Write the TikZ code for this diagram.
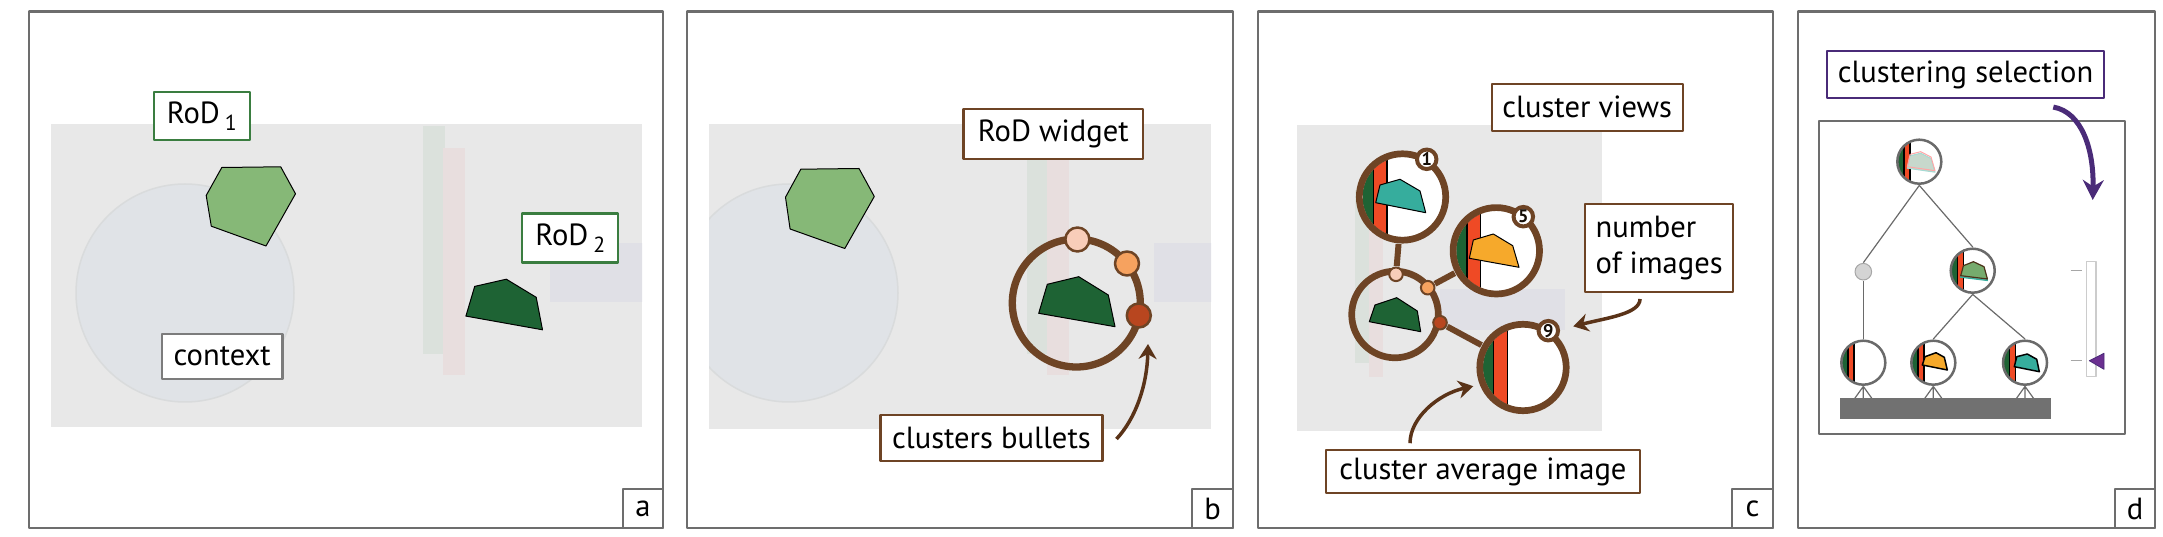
\documentclass[tikz,border=0pt]{standalone}
\usepackage{fontspec}
\setmainfont{PT Sans}
\usetikzlibrary{arrows.meta}

\definecolor{framegray}{HTML}{6D6D6D}
\definecolor{scenegray}{HTML}{E8E8E8}
\definecolor{ctxblue}{HTML}{E0E3E7}
\definecolor{ctxline}{HTML}{D9DBDC}
\definecolor{stripgreen}{HTML}{DBE1DC}
\definecolor{strippink}{HTML}{E8DEDE}
\definecolor{rectblue}{HTML}{E0E0E6}
\definecolor{rodlight}{HTML}{86B877}
\definecolor{roddark}{HTML}{1E6334}
\definecolor{rodframe}{HTML}{3A7D40}
\definecolor{widgetbrown}{HTML}{6E4425}
\definecolor{arrowbrown}{HTML}{5A3318}
\definecolor{bulletpale}{HTML}{F8CDB9}
\definecolor{bulletmid}{HTML}{F6A25F}
\definecolor{bulletdark}{HTML}{B8461F}
\definecolor{imgred}{HTML}{EF4A25}
\definecolor{imgteal}{HTML}{36AD9D}
\definecolor{imgorange}{HTML}{F6A92B}
\definecolor{selpurple}{HTML}{4A2B78}
\definecolor{markpurple}{HTML}{6B2F90}
\definecolor{treegray}{HTML}{6A6A6A}

% zoomed cluster image: centre, inner radius, green edge, red edge
\newcommand\clusterimg[4]{%
  \begin{scope}[shift={#1}]
    \clip (0,0) circle (#2);
    \fill[white] (0,0) circle (#2);
    \fill[roddark] (-#2,-#2) rectangle (#3,#2);
    \fill[imgred] (#3,-#2) rectangle (#4,#2);
    \draw[line width=0.13mm] (#3,-#2) -- (#3,#2) (#4,-#2) -- (#4,#2);
  \end{scope}}

% background scene of panels a and b
\newcommand\viewscene[1]{%
  \begin{scope}[shift={(#1,0)}]
    \filldraw[fill=ctxblue, draw=ctxline, line width=0.15mm] (185,293) circle (109);
    \fill[stripgreen] (423,126.5) rectangle (445,354.4);
    \fill[strippink] (443,147.6) rectangle (465,375);
    \fill[rectblue] (550,243) rectangle (700,302.5);
  \end{scope}}

\begin{document}
\begin{tikzpicture}[x=0.1mm, y=-0.1mm, line join=round,
    >={Stealth[length=1.5mm,width=1.8mm]},
    font=\fontsize{8.7}{10.4}\selectfont,
    panel/.style={draw=framegray, line width=0.22mm},
    tag/.style={draw=framegray, fill=white, line width=0.22mm, inner sep=0pt,
      minimum width=4.05mm, minimum height=3.9mm},
    callout/.style={fill=white, line width=0.22mm, inner sep=0pt},
    rodpoly/.style={draw=black, line width=0.1mm},
    hub/.style={circle, inner sep=0pt},
    ring/.style={draw=widgetbrown, line width=0.67mm},
    bullet/.style={draw=widgetbrown, line width=0.25mm},
    spoke/.style={draw=widgetbrown, line width=0.6mm},
    hint/.style={draw=arrowbrown, line width=0.35mm, ->},
    badge/.style={circle, draw=widgetbrown, fill=white, line width=0.4mm,
      minimum size=1.95mm, inner sep=0pt, text=black!80!widgetbrown,
      font=\fontsize{5.2}{5.5}\selectfont\bfseries},
    treering/.style={draw=treegray, line width=0.25mm},
    treelink/.style={draw=treegray, line width=0.12mm},
  ]
  \useasboundingbox (0,0) rectangle (2163,537);

  % ---------- panel a
  \draw[panel] (29,11.5) rectangle (663,528);
  \begin{scope}
    \clip (51,123.7) rectangle (642,427);
    \fill[scenegray] (51,123.7) rectangle (642,427);
    \viewscene{0}
  \end{scope}
  \filldraw[rodpoly, fill=rodlight] (221.8,167.5) -- (280.7,166.8) -- (295.5,193.8)
    -- (266,246) -- (211.3,226.2) -- (206.2,195.5) -- cycle;
  \filldraw[rodpoly, fill=roddark] (474.7,286.4) -- (506.3,279.2) -- (536.2,297.3)
    -- (542.5,329.8) -- (465.9,316.1) -- cycle;
  \node[callout, draw=rodframe, minimum width=9.64mm, minimum height=4.77mm] (rodone)
    at (201.8,116.2) {RoD\,\raisebox{-0.45ex}{\fontsize{6.2}{7}\selectfont 1}};
  \node[callout, draw=rodframe, minimum width=9.6mm, minimum height=4.9mm] (rodtwo)
    at (570.3,238) {RoD\,\raisebox{-0.45ex}{\fontsize{6.2}{7}\selectfont 2}};
  \node[callout, draw=framegray!90, minimum width=12.04mm, minimum height=4.45mm] (context)
    at (222.2,356.5) {context};
  \node[tag] (taga) at (643,508.5) {a};

  % ---------- panel b
  \draw[panel] (687,11.5) rectangle (1233,528);
  \begin{scope}
    \clip (709,123.7) rectangle (1211,429);
    \fill[scenegray] (709,123.7) rectangle (1211,429);
    \viewscene{604}
  \end{scope}
  \filldraw[rodpoly, fill=rodlight] (800.8,169.2) -- (859,168.5) -- (874.3,196.5)
    -- (844.8,248.5) -- (790.1,229) -- (785.5,197.2) -- cycle;
  \draw[ring, line width=0.73mm] (1076.3,303) circle (64);
  \filldraw[rodpoly, fill=roddark] (1047.3,284.3) -- (1078.7,276.7) -- (1108.3,295)
    -- (1115,326.7) -- (1038.7,313.3) -- cycle;
  \filldraw[bullet, fill=bulletpale] (1077.4,239.5) circle (12);
  \filldraw[bullet, fill=bulletmid] (1127,263.5) circle (12);
  \filldraw[bullet, fill=bulletdark] (1138.8,315.5) circle (12);
  \coordinate (bullettip) at (1148,344);
  \node[callout, draw=widgetbrown, minimum width=17.95mm, minimum height=4.96mm] (widget)
    at (1053.3,134.2) {RoD widget};
  \node[callout, draw=widgetbrown, minimum width=22.2mm, minimum height=4.55mm] (bullets)
    at (991.4,438) {clusters bullets};
  \draw[hint] ([xshift=1.3mm,yshift=-0.1mm]bullets.east) .. controls (1136,418) and (1147,385) .. (bullettip);
  \node[tag] (tagb) at (1212.5,508.5) {b};

  % ---------- panel c
  \draw[panel] (1258,11.5) rectangle (1773,528);
  \fill[scenegray] (1296.7,124.7) rectangle (1601.7,430.6);
  \fill[stripgreen] (1355,190) rectangle (1370,363);
  \fill[strippink] (1369,210) rectangle (1383.3,377);
  \fill[rectblue] (1440,289) rectangle (1565,330);
  \path (1402.5,197) node[hub, minimum size=9.3mm] (cone) {}
        (1496.3,250.8) node[hub, minimum size=9.3mm] (ctwo) {}
        (1523,367.5) node[hub, minimum size=9.3mm] (cthree) {}
        (1396,274.3) node[hub, minimum size=1.5mm] (pone) {}
        (1427.7,287.7) node[hub, minimum size=1.5mm] (ptwo) {}
        (1440,322.7) node[hub, minimum size=1.5mm] (pthree) {};
  \draw[spoke] (pone) -- (cone);
  \draw[spoke] (ptwo) -- (ctwo);
  \draw[spoke] (pthree) -- (cthree);
  \draw[ring] (1395,314.5) circle (43.3);
  \filldraw[rodpoly, fill=roddark] (1375,305) -- (1396.7,297.7) -- (1417.3,311)
    -- (1420.7,331.7) -- (1369.3,321.7) -- cycle;
  \clusterimg{(1402.5,197)}{40}{-29.3}{-15.5}
  \filldraw[rodpoly, fill=imgteal, shift={(1402.5,197)}] (-22.5,-12) -- (-2.5,-17.7)
    -- (17.5,-6) -- (23.2,15.7) -- (-26.8,5.7) -- cycle;
  \draw[ring] (cone) circle (43.2);
  \clusterimg{(1496.3,250.8)}{40}{-29.3}{-15.5}
  \filldraw[rodpoly, fill=imgorange, shift={(1496.3,250.8)}] (-23,-10.8) -- (-3,-16.8)
    -- (16.4,-5.1) -- (22.7,16.5) -- (-27,7.5) -- cycle;
  \draw[ring] (ctwo) circle (43.2);
  \clusterimg{(1523,367.5)}{40}{-29.3}{-15.5}
  \draw[ring] (cthree) circle (43.2);
  \filldraw[bullet, line width=0.2mm, fill=bulletpale] (pone) circle (6.8);
  \filldraw[bullet, line width=0.2mm, fill=bulletmid] (ptwo) circle (6.8);
  \filldraw[bullet, line width=0.2mm, fill=bulletdark] (pthree) circle (6.8);
  \node[badge] (bone) at (1426.7,159.3) {1};
  \node[badge] (bfive) at (1523.3,216.7) {5};
  \node[badge] (bnine) at (1548.3,330.7) {9};
  \coordinate (counttip) at (1573.3,326.4);
  \coordinate (avgtip) at (1473.3,386.2);
  \node[callout, draw=widgetbrown, minimum width=19.1mm, minimum height=4.7mm] (views)
    at (1587.2,107.2) {cluster views};
  \node[callout, draw=widgetbrown, minimum width=14.83mm, minimum height=8.82mm, align=left] (count)
    at (1659.2,248.1) {number\\of images};
  \node[callout, draw=widgetbrown, minimum width=31.43mm, minimum height=4.26mm] (average)
    at (1482.9,471.7) {cluster average image};
  \draw[hint] ([xshift=-1.92mm,yshift=-0.57mm]count.south) .. controls (1640,314) and (1606,318) .. (counttip);
  \draw[hint] ([xshift=-7.29mm,yshift=0.61mm]average.north) .. controls (1410,418) and (1438,394) .. (avgtip);
  \node[tag] (tagc) at (1752.5,508.5) {c};

  % ---------- panel d
  \draw[panel] (1798,11.5) rectangle (2155,528);
  \draw[panel, line width=0.2mm] (1819.3,120.6) rectangle (2125,434);
  \path (1919.3,161.7) node[hub, minimum size=4.6mm] (root) {}
        (1863.3,271.7) node[hub, minimum size=1.66mm] (gdot) {}
        (1972.7,270.7) node[hub, minimum size=4.6mm] (inner) {}
        (1863.3,362.7) node[hub, minimum size=4.6mm] (lone) {}
        (1933.3,362.7) node[hub, minimum size=4.6mm] (ltwo) {}
        (2025,362.7) node[hub, minimum size=4.6mm] (lthree) {};
  \draw[treelink] (root.south) -- (gdot.north);
  \draw[treelink] (root.south) -- (inner.north);
  \draw[treelink] (gdot.south) -- (lone.north);
  \draw[treelink] (inner.south) -- (ltwo.north);
  \draw[treelink] (inner.south) -- (lthree.north);
  \foreach \leaf in {lone,ltwo,lthree}
    \draw[treelink] (\leaf.south) -- ++(-9,12.6) (\leaf.south) -- ++(0,12.6) (\leaf.south) -- ++(9,12.6);
  \fill[treegray!95] (1840,398.3) rectangle (2051,419);
  \filldraw[fill=black!17, draw=black!35, line width=0.1mm] (gdot) circle (8.3);
  \clusterimg{(1919.3,161.7)}{21.2}{-15.3}{-9.3}
  \filldraw[draw=imgteal!45, fill=roddark!25, line width=0.1mm, shift={(1919.3,163.2)}] (-9.3,-7.3) -- (1.3,-10)
    -- (11.7,-4.7) -- (15.7,9) -- (-12,5) -- cycle;
  \draw[draw=red!35, line width=0.1mm, shift={(1919.3,161.7)}] (-9.3,-7.3) -- (1.3,-10)
    -- (11.7,-4.7) -- (15.7,9) -- (-12,5) -- cycle;
  \draw[treering] (root) circle (22);
  \clusterimg{(1972.7,270.7)}{21.2}{-15.3}{-9.3}
  \filldraw[draw=imgteal, fill=imgteal!70, line width=0.12mm, shift={(1972.7,272.2)}] (-9.3,-5) -- (0.7,-9)
    -- (11.3,-4) -- (14.7,8.3) -- (-12,5) -- cycle;
  \filldraw[draw=black!60!brown, fill=rodlight!85!roddark, line width=0.12mm, shift={(1972.7,270.7)}] (-9.3,-5) -- (0.7,-9)
    -- (11.3,-4) -- (14.7,8.3) -- (-12,5) -- cycle;
  \draw[treering] (inner) circle (22);
  \clusterimg{(1863.3,362.7)}{21.2}{-15.3}{-9.3}
  \draw[treering] (lone) circle (22);
  \clusterimg{(1933.3,362.7)}{21.2}{-15.3}{-9.3}
  \filldraw[rodpoly, fill=imgorange, line width=0.15mm, shift={(1933.3,362.7)}] (-8.3,-6) -- (2.7,-10)
    -- (11,-5.4) -- (14,7.3) -- (-11,2.3) -- cycle;
  \draw[treering] (ltwo) circle (22);
  \clusterimg{(2025,362.7)}{21.2}{-15.3}{-9.3}
  \filldraw[rodpoly, fill=imgteal, line width=0.15mm, shift={(2025,362.7)}] (-8.3,-6) -- (2.3,-8.7)
    -- (11.7,-3.4) -- (14.3,9) -- (-10.7,4) -- cycle;
  \draw[treering] (lthree) circle (22);
  % depth slider
  \draw[draw=black!20, fill=white, line width=0.12mm] (2086.7,261.7) rectangle (2096,376.7);
  \draw[draw=black!35, line width=0.1mm] (2070.7,271) -- (2081.7,271) (2070.7,361) -- (2081.7,361);
  \filldraw[fill=markpurple, draw=selpurple, line width=0.08mm] (2089.3,360.7) -- (2104,353.3) -- (2104,369.3) -- cycle;
  \coordinate (seltip) at (2092.7,200);
  \node[callout, draw=selpurple, minimum width=27.76mm, minimum height=4.68mm] (select)
    at (1965.5,74.7) {clustering selection};
  \draw[selpurple, line width=0.5mm, -{Stealth[length=2mm,width=2.1mm]}]
    ([xshift=8.78mm,yshift=-0.79mm]select.south) .. controls (2082,112) and (2094,150) .. (seltip);
  \node[tag] (tagd) at (2135,508.5) {d};
\end{tikzpicture}
\end{document}
